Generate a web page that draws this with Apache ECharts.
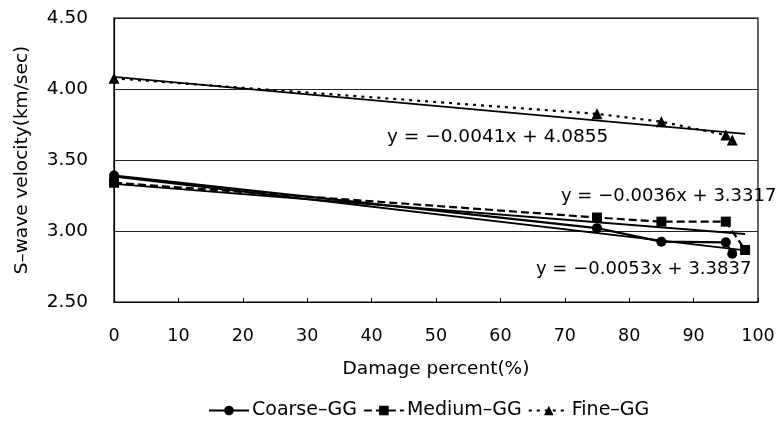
<!DOCTYPE html>
<html>
<head>
<meta charset="utf-8">
<script src="https://cdn.jsdelivr.net/npm/echarts@6/dist/echarts.min.js"></script>
<style>
html,body{margin:0;padding:0;background:#fff;}
#c{width:778px;height:423px;}
</style>
</head>
<body>
<div id="c"></div>
<script>
// Data
const coarseX = [0, 75, 85, 95, 96];
const coarseY = [3.39, 3.02, 2.925, 2.92, 2.84];
const mediumX = [0, 75, 85, 95, 98];
const mediumY = [3.34, 3.095, 3.066, 3.066, 2.866];
const fineX = [0, 75, 85, 95, 96];
const fineY = [4.075, 3.825, 3.77, 3.676, 3.64];

// Linear trendline coefficients shown in the chart
const trendSlope = [-0.0041, -0.0036, -0.0053];
const trendIntercept = [4.0855, 3.3317, 3.3837];
const trendXRange = [0, 98];
const trendLabels = ['y = \u22120.0041x + 4.0855', 'y = \u22120.0036x + 3.3317', 'y = \u22120.0053x + 3.3837'];

const xTicks = [0, 100, 10];
const yTicks = [2.5, 4.5, 0.5];
const seriesNames = ['Coarse\u2013GG', 'Medium\u2013GG', 'Fine\u2013GG'];
const xTitle = 'Damage percent(%)';
const yTitle = 'S\u2013wave velocity(km/sec)';

const pairs = (xs, ys) => xs.map((x, i) => [x, ys[i]]);
const trendData = (k) => trendXRange.map(x => [x, trendIntercept[k] + trendSlope[k] * x]);

const FONT = '"DejaVu Sans", "Liberation Sans", Arial, sans-serif';
const chart = echarts.init(document.getElementById('c'), null, {renderer: 'canvas'});

const trendSeries = [0, 1, 2].map(k => ({
  type: 'line', data: trendData(k), showSymbol: false, symbol: 'none',
  lineStyle: {color: '#000', width: 1.8, type: 'solid'}, silent: true, z: 1
}));

chart.setOption({
  animation: false,
  backgroundColor: '#fff',
  grid: {left: 114, right: 20, top: 18, bottom: 121, show: true, borderColor: '#000', borderWidth: 1.2},
  xAxis: {
    type: 'value', min: xTicks[0], max: xTicks[1], interval: xTicks[2],
    name: xTitle, nameLocation: 'middle', nameGap: 58,
    nameTextStyle: {fontFamily: FONT, fontSize: 18.5, color: '#000'},
    axisLine: {show: true, lineStyle: {color: '#000', width: 1.2}},
    axisTick: {show: true, inside: true, length: 4, lineStyle: {color: '#000'}},
    axisLabel: {fontFamily: FONT, fontSize: 17.5, color: '#000', margin: 25},
    splitLine: {show: false}
  },
  yAxis: {
    type: 'value', min: yTicks[0], max: yTicks[1], interval: yTicks[2],
    name: yTitle, nameLocation: 'middle', nameGap: 82,
    nameTextStyle: {fontFamily: FONT, fontSize: 18.5, color: '#000'},
    axisLine: {show: true, lineStyle: {color: '#000', width: 1.2}},
    axisTick: {show: false},
    axisLabel: {fontFamily: FONT, fontSize: 18.5, color: '#000', margin: 26, formatter: v => v.toFixed(2)},
    splitLine: {show: true, lineStyle: {color: '#222', width: 1}}
  },
  legend: {
    data: seriesNames, top: 396, left: 203, itemWidth: 40, itemHeight: 12, itemGap: 6,
    textStyle: {fontFamily: FONT, fontSize: 19, color: '#000', padding: [0, 0, 0, -2]}
  },
  graphic: [
    {type: 'text', left: 387, top: 128, style: {text: trendLabels[0], font: '18.5px ' + FONT, fill: '#000'}},
    {type: 'text', left: 561, top: 187, style: {text: trendLabels[1], font: '18px ' + FONT, fill: '#000'}},
    {type: 'text', left: 536, top: 260, style: {text: trendLabels[2], font: '18px ' + FONT, fill: '#000'}}
  ],
  series: [
    {
      name: seriesNames[0], type: 'line', data: pairs(coarseX, coarseY),
      symbol: 'circle', symbolSize: 10, itemStyle: {color: '#000'},
      lineStyle: {color: '#000', width: 2.2, type: 'solid'}, z: 3
    },
    {
      name: seriesNames[1], type: 'line', data: pairs(mediumX, mediumY),
      symbol: 'rect', symbolSize: 10, itemStyle: {color: '#000'},
      lineStyle: {color: '#000', width: 2.2, type: [8, 4]}, z: 3
    },
    {
      name: seriesNames[2], type: 'line', data: pairs(fineX, fineY),
      symbol: 'triangle', symbolSize: 11, itemStyle: {color: '#000'},
      lineStyle: {color: '#000', width: 2.2, type: [3, 5]}, z: 3
    }
  ].concat(trendSeries)
});
</script>
</body>
</html>
